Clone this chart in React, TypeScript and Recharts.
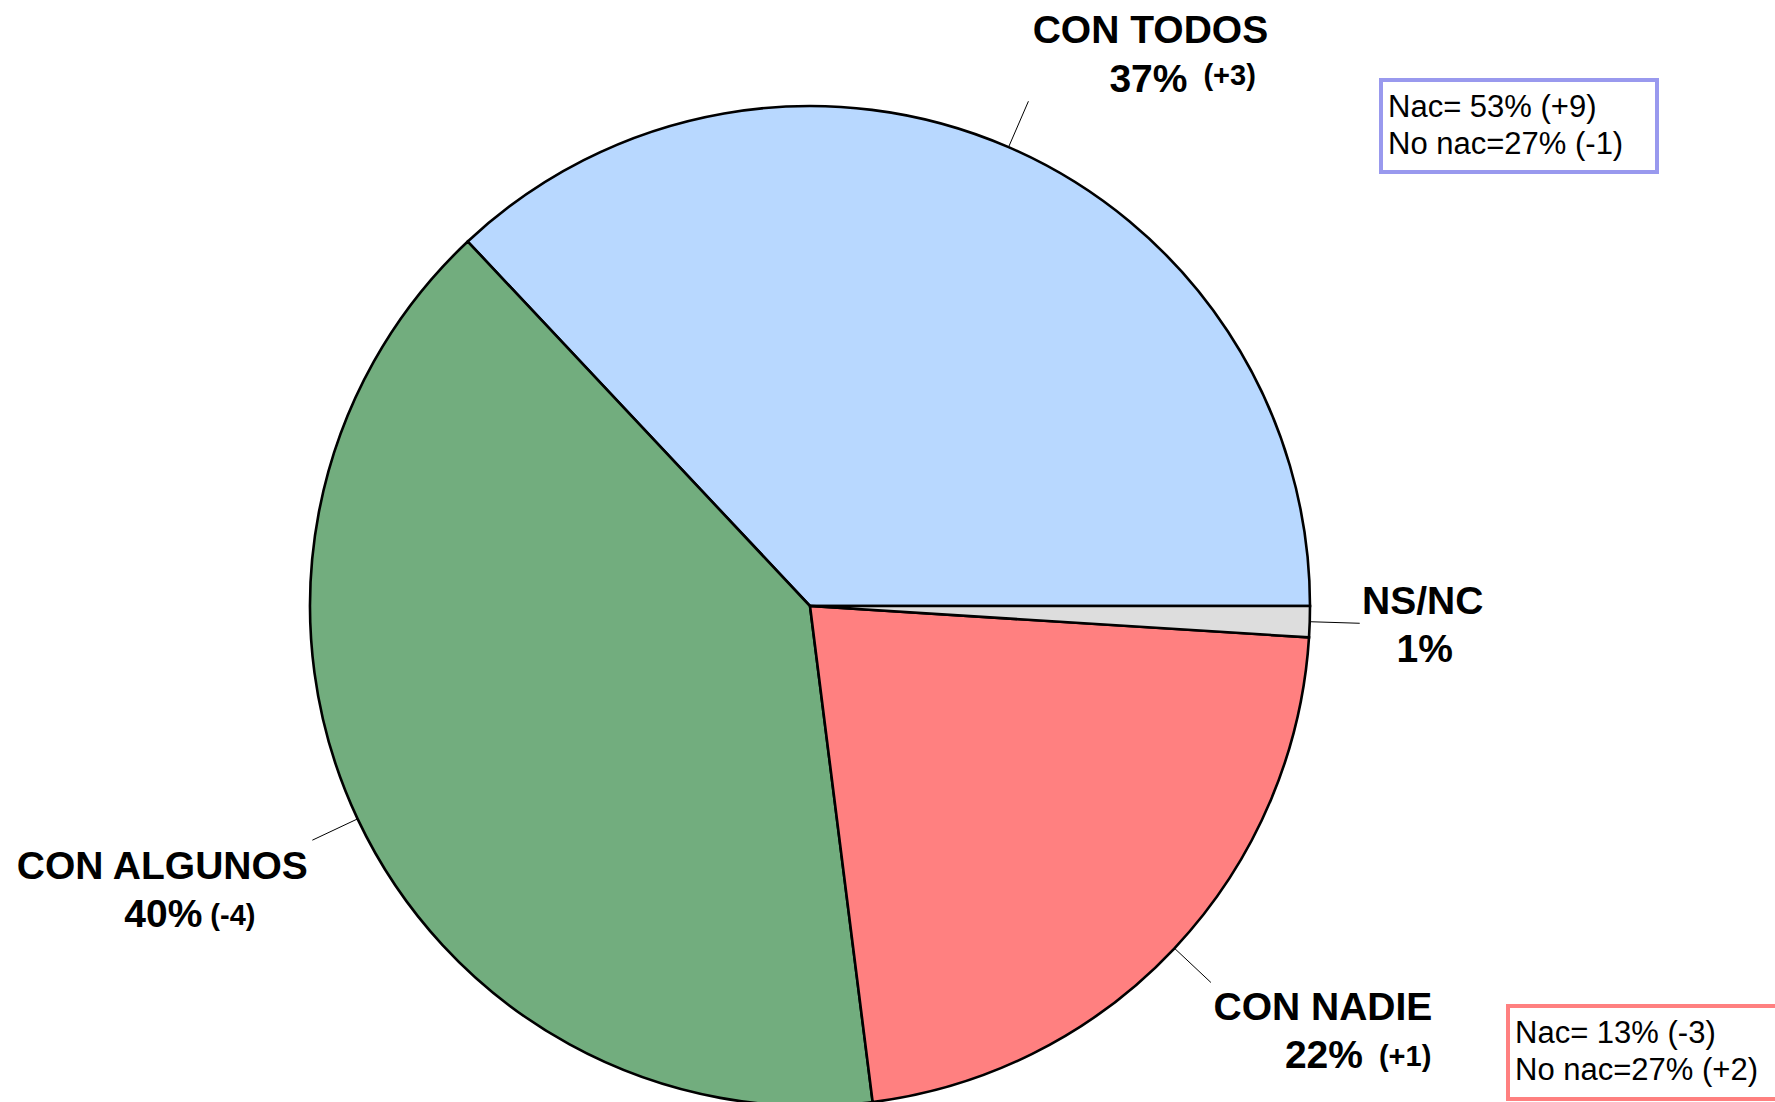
import React from 'react';
import { PieChart, Pie, Cell } from 'recharts';

const categories = ['CON TODOS', 'CON ALGUNOS', 'CON NADIE', 'NS/NC'];
const values = [37, 40, 22, 1];
const changes = ['(+3)', '(-4)', '(+1)', ''];
const colors = ['#B8D8FF', '#72AD7E', '#FF8080', '#DDDDDD'];

const boxNacional = ['Nac= 53% (+9)', 'No nac=27% (-1)'];
const boxNadie = ['Nac= 13% (-3)', 'No nac=27% (+2)'];

const data = categories.map((name, i) => ({ name, value: values[i] }));

// label layout offsets relative to the end of each leader line
const labelLayout = [
  { nameDx: 122, nameDy: -58, pctDx: 81, pctDy: -9, pctAnchor: 'start', chgDx: 175, chgDy: -16 },
  { nameDx: -150, nameDy: 39, pctDx: -188, pctDy: 87, pctAnchor: 'start', chgDx: -102, chgDy: 85 },
  { nameDx: 112, nameDy: 37, pctDx: 74, pctDy: 85, pctAnchor: 'start', chgDx: 168, chgDy: 83 },
  { nameDx: 63, nameDy: -9, pctDx: 65, pctDy: 39, pctAnchor: 'middle', chgDx: 0, chgDy: 0 },
];

const RADIAN = Math.PI / 180;
const LINE_LEN = 50;
const FONT = '"Liberation Sans", Arial, sans-serif';

const renderLabel = (props: any) => {
  const { cx, cy, midAngle, outerRadius, index } = props;
  const cos = Math.cos(-midAngle * RADIAN);
  const sin = Math.sin(-midAngle * RADIAN);
  const sx = cx + outerRadius * cos;
  const sy = cy + outerRadius * sin;
  const ex = cx + (outerRadius + LINE_LEN) * cos;
  const ey = cy + (outerRadius + LINE_LEN) * sin;
  const lay = labelLayout[index];
  return (
    <g key={`lbl-${index}`}>
      <line x1={sx} y1={sy} x2={ex} y2={ey} stroke="#000" strokeWidth={1} />
      <text x={ex + lay.nameDx} y={ey + lay.nameDy} textAnchor="middle" fontFamily={FONT} fontWeight="bold" fontSize={39} fill="#000">
        {categories[index]}
      </text>
      <text x={ex + lay.pctDx} y={ey + lay.pctDy} textAnchor={lay.pctAnchor as any} fontFamily={FONT} fontWeight="bold" fontSize={39} fill="#000">
        {`${values[index]}%`}
      </text>
      {changes[index] ? (
        <text x={ex + lay.chgDx} y={ey + lay.chgDy} textAnchor="start" fontFamily={FONT} fontWeight="bold" fontSize={29} fill="#000">
          {changes[index]}
        </text>
      ) : null}
    </g>
  );
};

const boxStyle = (border: string, left: number, top: number, width: number, height: number): React.CSSProperties => ({
  position: 'absolute',
  left,
  top,
  width,
  height,
  boxSizing: 'border-box',
  border: `4px solid ${border}`,
  background: '#fff',
  fontFamily: FONT,
  fontSize: 31,
  lineHeight: '37px',
  paddingLeft: 5,
  paddingTop: 6,
  color: '#000',
  whiteSpace: 'nowrap',
});

export default function App() {
  return (
    <div style={{ position: 'absolute', left: 0, top: 0, width: 1775, height: 1102, overflow: 'hidden', background: '#fff' }}>
      <PieChart width={1775} height={1102} margin={{ top: 0, right: 0, bottom: 0, left: 0 }}>
        <Pie
          data={data}
          dataKey="value"
          nameKey="name"
          cx={810}
          cy={606}
          outerRadius={500}
          startAngle={0}
          endAngle={360}
          stroke="#000"
          strokeWidth={2.6}
          label={renderLabel}
          labelLine={false}
          isAnimationActive={false}
        >
          {data.map((d, i) => (
            <Cell key={d.name} fill={colors[i]} />
          ))}
        </Pie>
      </PieChart>
      <div style={boxStyle('#9999EE', 1379, 78, 280, 96)}>
        {boxNacional.map((t) => (
          <div key={t}>{t}</div>
        ))}
      </div>
      <div style={boxStyle('#FF8080', 1506, 1004, 290, 97)}>
        {boxNadie.map((t) => (
          <div key={t}>{t}</div>
        ))}
      </div>
    </div>
  );
}
